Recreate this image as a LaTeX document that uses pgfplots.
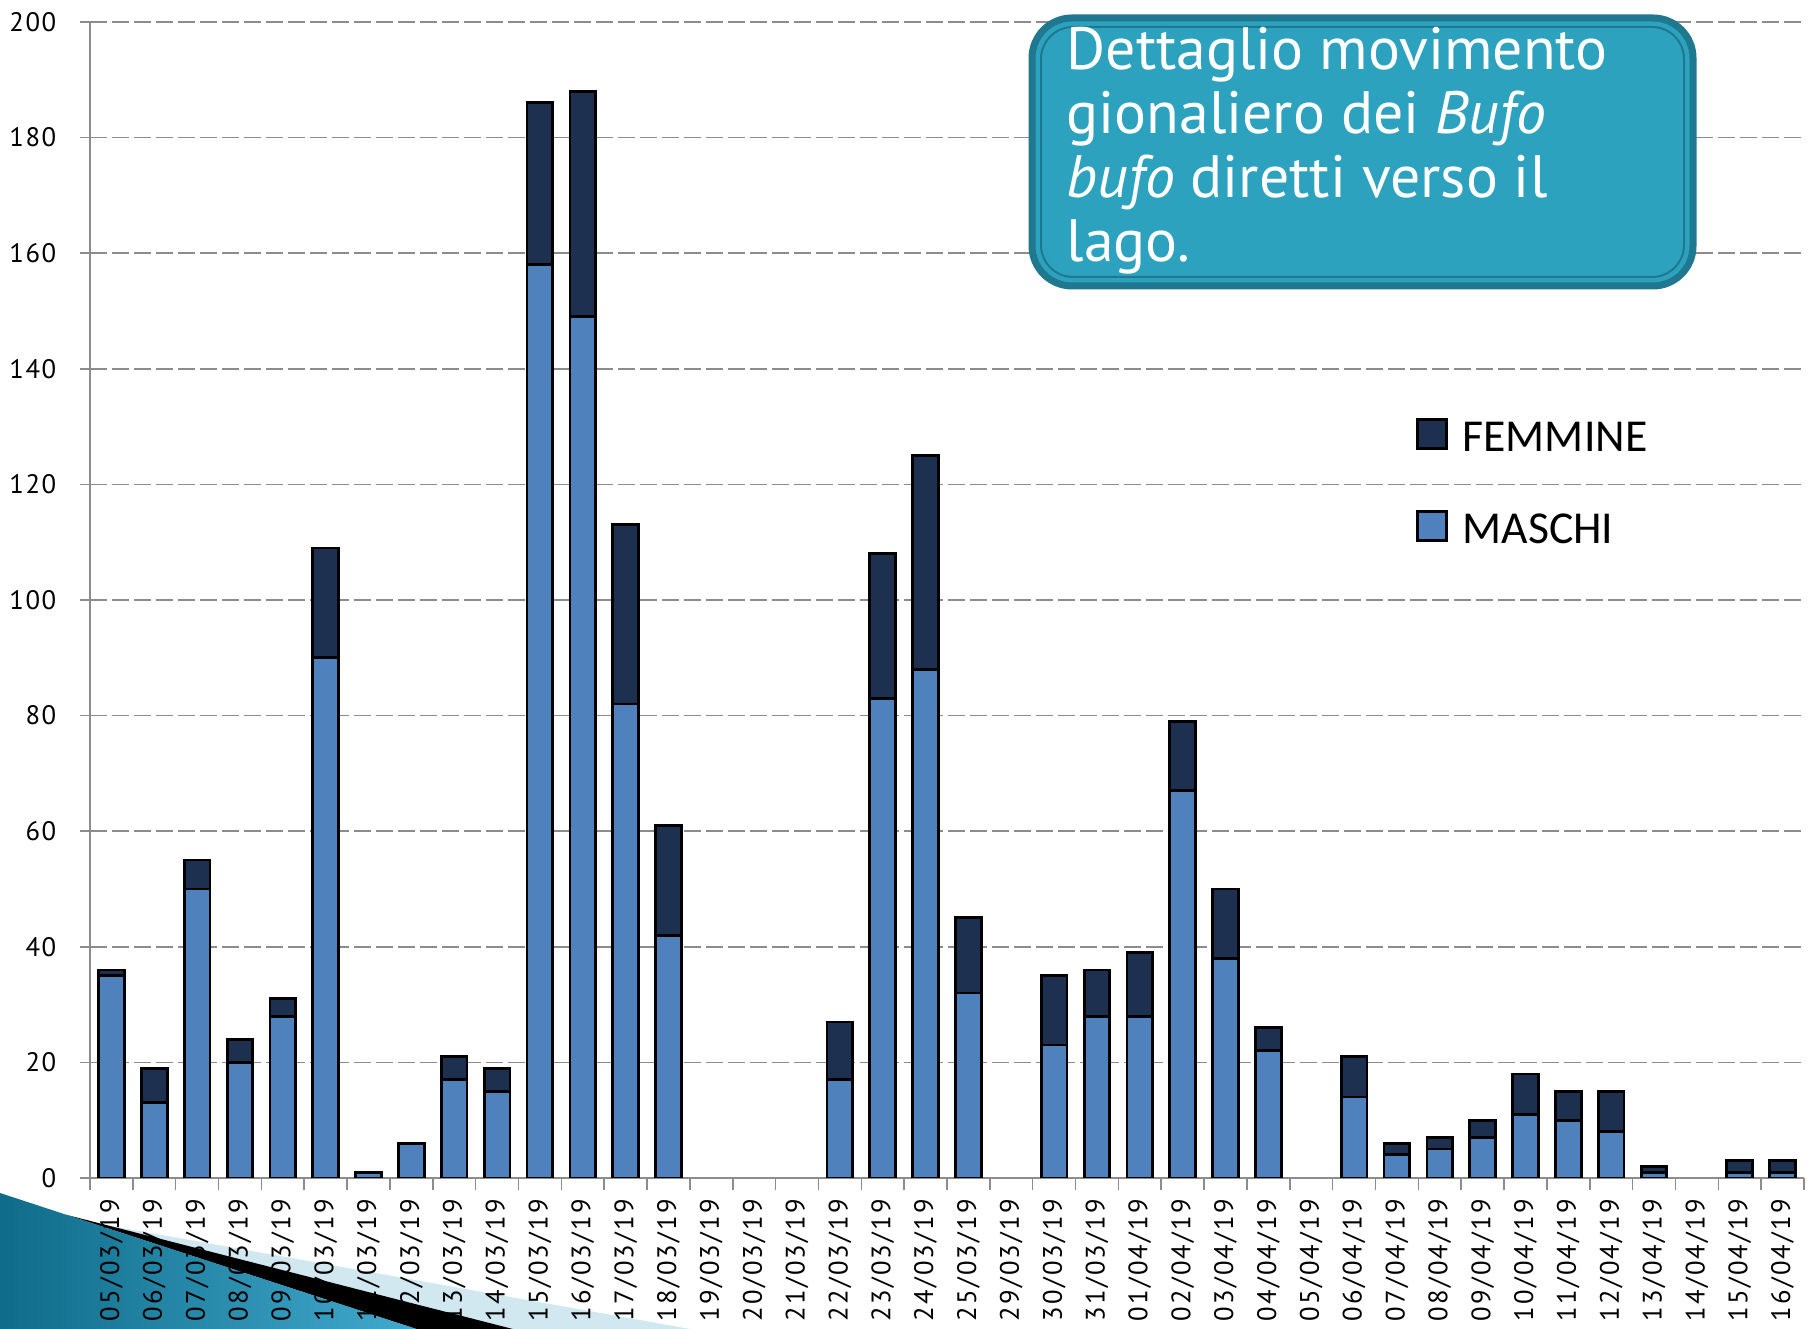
\documentclass[border=0pt]{standalone}
\usepackage{fontspec}
\setmainfont{PT Sans}
\newfontfamily\tickfont{PT Sans}[LetterSpace=6]
\newfontfamily\xtickfont{PT Sans}[LetterSpace=9]
\newfontfamily\legfont{Carlito}
\usepackage{pgfplots}
\pgfplotsset{compat=1.18}
\usepackage{pgfplotstable}
\definecolor{maschi}{HTML}{4F81BD}
\definecolor{femmine}{HTML}{1D3050}
\definecolor{gridgray}{HTML}{8C8C8C}
\definecolor{boxfill}{HTML}{2DA2BF}
\definecolor{boxedge}{HTML}{1F7890}
\definecolor{tealdark}{HTML}{0E6A88}
\definecolor{teallight}{HTML}{45AED2}
\definecolor{lightblue}{HTML}{D2E8F1}

\pgfplotstableread{
x M F
0 35 1
1 13 6
2 50 5
3 20 4
4 28 3
5 90 19
6 1 0
7 6 0
8 17 4
9 15 4
10 158 28
11 149 39
12 82 31
13 42 19
17 17 10
18 83 25
19 88 37
20 32 13
22 23 12
23 28 8
24 28 11
25 67 12
26 38 12
27 22 4
29 14 7
30 4 2
31 5 2
32 7 3
33 11 7
34 10 5
35 8 7
36 1 1
38 1 2
39 1 2
}\data

\begin{document}
\begin{tikzpicture}
% slide decoration (bottom left)
\fill[lightblue] (-2.3mm,-3.7mm) -- (1.0mm,-4.6mm) -- (65.1mm,-16mm) -- (-10mm,-16mm) -- cycle;
\fill[black] (-2.3mm,-3.7mm) -- (45.8mm,-16mm) -- (35.4mm,-16mm) -- cycle;
\shade[left color=tealdark, right color=teallight] (-10mm,-1.5mm) -- (-9mm,-1.5mm) -- (-2.3mm,-3.7mm) -- (35.4mm,-16mm) -- (-10mm,-16mm) -- cycle;

\begin{axis}[
  scale only axis, width=171.4mm, height=115.6mm,
  ybar stacked, bar width=0.6,
  xmin=-0.5, xmax=39.5, ymin=0, ymax=200,
  ytick={0,20,...,200},
  xtick={0,...,39},
  xticklabels={05/03/19,06/03/19,07/03/19,08/03/19,09/03/19,10/03/19,11/03/19,12/03/19,13/03/19,14/03/19,15/03/19,16/03/19,17/03/19,18/03/19,19/03/19,20/03/19,21/03/19,22/03/19,23/03/19,24/03/19,25/03/19,29/03/19,30/03/19,31/03/19,01/04/19,02/04/19,03/04/19,04/04/19,05/04/19,06/04/19,07/04/19,08/04/19,09/04/19,10/04/19,11/04/19,12/04/19,13/04/19,14/04/19,15/04/19,16/04/19},
  minor xtick={-0.5,0.5,...,39.5},
  axis x line*=bottom, axis y line*=left,
  axis line style={gridgray, line width=0.45pt, -},
  tick align=outside,
  major tick length=1mm, minor tick length=1.2mm,
  tick style={gridgray, line width=0.45pt},
  major x tick style={draw=none},
  ymajorgrids,
  major grid style={gridgray, line width=0.45pt, dash pattern=on 1.7mm off 0.5mm},
  /pgf/number format/assume math mode=true,
  yticklabel style={font=\tickfont\fontsize{7.6}{9}\selectfont, inner sep=0pt, anchor=east},
  yticklabel shift=2.3mm,
  xticklabel style={font=\xtickfont\fontsize{7.6}{9}\selectfont, rotate=90, anchor=east, inner sep=0pt},
  xticklabel shift=1.0mm,
  legend image code/.code={\draw[#1] (0mm,-0.7mm) rectangle (2.9mm,2.2mm);},
  legend style={at={(axis description cs:0.7731,0.658)}, anchor=north west, draw=none, fill=none, inner sep=0pt, row sep=5.1mm, column sep=1.5mm, font=\legfont\fontsize{13}{15}\selectfont, nodes={inner sep=0pt, text height=2.8mm, text depth=0.7mm}},
  legend cell align=left,
  reverse legend,
]
\addplot[fill=maschi, draw=black, line width=0.8pt] table[x=x, y=M]{\data};
\addplot[fill=femmine, draw=black, line width=0.8pt] table[x=x, y=F]{\data};
\legend{MASCHI, FEMMINE}
\end{axis}

% title box
\draw[boxedge, line width=0.7mm, fill=boxfill, rounded corners=4mm] (94.2mm,89.2mm) rectangle (160.3mm,116.0mm);
\draw[boxedge, line width=0.2mm, rounded corners=3.2mm] (95.1mm,90.1mm) rectangle (159.4mm,115.1mm);
\begin{scope}[every node/.style={anchor=base west, inner sep=0pt, text=white, font=\fontsize{17}{20}\selectfont}]
\node at (97.6mm,110.8mm) {Dettaglio movimento};
\node at (97.6mm,104.4mm) {gionaliero dei \textit{Bufo}};
\node at (97.6mm,98.0mm) {\textit{bufo} diretti verso il};
\node at (97.6mm,91.6mm) {lago.};
\end{scope}

\pgfresetboundingbox
\useasboundingbox (-9.0mm,-15.1mm) rectangle (172.6mm,117.8mm);
\end{tikzpicture}
\end{document}
